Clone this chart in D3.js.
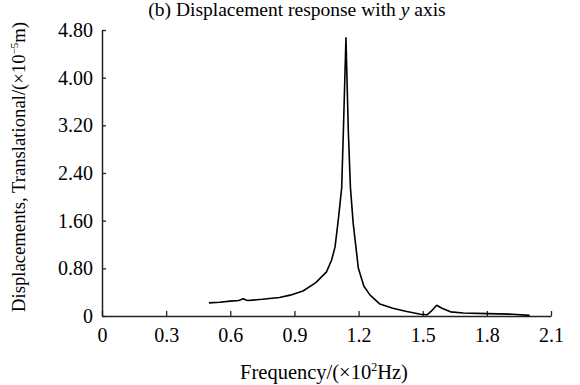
<!DOCTYPE html>
<html>
<head>
<meta charset="utf-8">
<script src="https://cdn.jsdelivr.net/npm/d3@7"></script>
<style>
  body { margin: 0; background: #fff; }
  text { font-family: "Liberation Serif", "Times New Roman", serif; fill: #000; }
</style>
</head>
<body>
<div id="chart"></div>
<script>
// Frequency (x10^2 Hz) and displacement (x10^-5 m)
const freq = [0.50, 0.55, 0.60, 0.64, 0.66, 0.68, 0.75, 0.83, 0.88, 0.94, 1.00, 1.05, 1.074, 1.09, 1.105, 1.121, 1.129, 1.141, 1.152, 1.162, 1.175, 1.199, 1.225, 1.254, 1.30, 1.36, 1.42, 1.49, 1.52, 1.54, 1.565, 1.59, 1.63, 1.69, 1.80, 1.92, 2.00];
const disp = [0.22, 0.23, 0.25, 0.26, 0.29, 0.26, 0.28, 0.31, 0.35, 0.42, 0.56, 0.74, 0.94, 1.16, 1.61, 2.15, 3.11, 4.67, 3.11, 2.15, 1.55, 0.80, 0.50, 0.35, 0.20, 0.13, 0.08, 0.03, 0.02, 0.08, 0.18, 0.13, 0.07, 0.05, 0.04, 0.03, 0.01];

const xTicks = [0, 0.3, 0.6, 0.9, 1.2, 1.5, 1.8, 2.1];
const yTicks = [0, 0.8, 1.6, 2.4, 3.2, 4.0, 4.8];

const W = 580, H = 385;
const margin = { top: 30, right: 29, bottom: 69, left: 102 };
const width = W - margin.left - margin.right;
const height = H - margin.top - margin.bottom;

const root = d3.select("#chart").append("svg")
    .attr("width", W)
    .attr("height", H);

const svg = root.append("g")
    .attr("transform", `translate(${margin.left}, ${margin.top})`);

const x = d3.scaleLinear().domain([0, 2.1]).range([0, width]);
const y = d3.scaleLinear().domain([0, 4.8]).range([height, 0]);

// Axes with inward ticks
const xAxis = svg.append("g")
    .attr("transform", `translate(0, ${height})`)
    .call(d3.axisBottom(x).tickValues(xTicks).tickSize(-5).tickSizeOuter(0)
        .tickPadding(12).tickFormat(d => d === 0 ? "0" : d3.format(".1f")(d)));

const yAxis = svg.append("g")
    .call(d3.axisLeft(y).tickValues(yTicks).tickSize(-4).tickSizeOuter(0)
        .tickPadding(9).tickFormat(d => d === 0 ? "0" : d3.format(".2f")(d)));

[xAxis, yAxis].forEach(a => {
    a.select(".domain").attr("stroke", "#222").attr("stroke-width", 1.5);
    a.selectAll(".tick line").attr("stroke", "#222").attr("stroke-width", 1.3);
    a.selectAll(".tick text").style("font-size", "20px")
        .style("font-family", "'Liberation Serif', serif").attr("fill", "#000");
});

// Response curve
svg.append("path")
    .datum(freq.map((f, i) => [f, disp[i]]))
    .attr("fill", "none")
    .attr("stroke", "#000")
    .attr("stroke-width", 1.6)
    .attr("stroke-linejoin", "round")
    .attr("d", d3.line().x(d => x(d[0])).y(d => y(d[1])));

// Title
const title = root.append("text")
    .attr("x", 297)
    .attr("y", 16)
    .attr("text-anchor", "middle")
    .style("font-size", "19.5px");
title.append("tspan").text("(b) Displacement response with ");
title.append("tspan").style("font-style", "italic").text("y");
title.append("tspan").text(" axis");

// X axis title
const xt = root.append("text")
    .attr("x", 324)
    .attr("y", 379)
    .attr("text-anchor", "middle")
    .style("font-size", "20.5px");
xt.append("tspan").text("Frequency/(×10");
xt.append("tspan").attr("dy", -8).style("font-size", "12px").text("2");
xt.append("tspan").attr("dy", 8).text("Hz)");

// Y axis title
const yt = root.append("text")
    .attr("transform", "translate(25, 167) rotate(-90)")
    .attr("text-anchor", "middle")
    .style("font-size", "18.7px");
yt.append("tspan").text("Displacements, Translational/(×10");
yt.append("tspan").attr("dy", -7).style("font-size", "11px").text("−5");
yt.append("tspan").attr("dy", 7).text("m)");
</script>
</body>
</html>
